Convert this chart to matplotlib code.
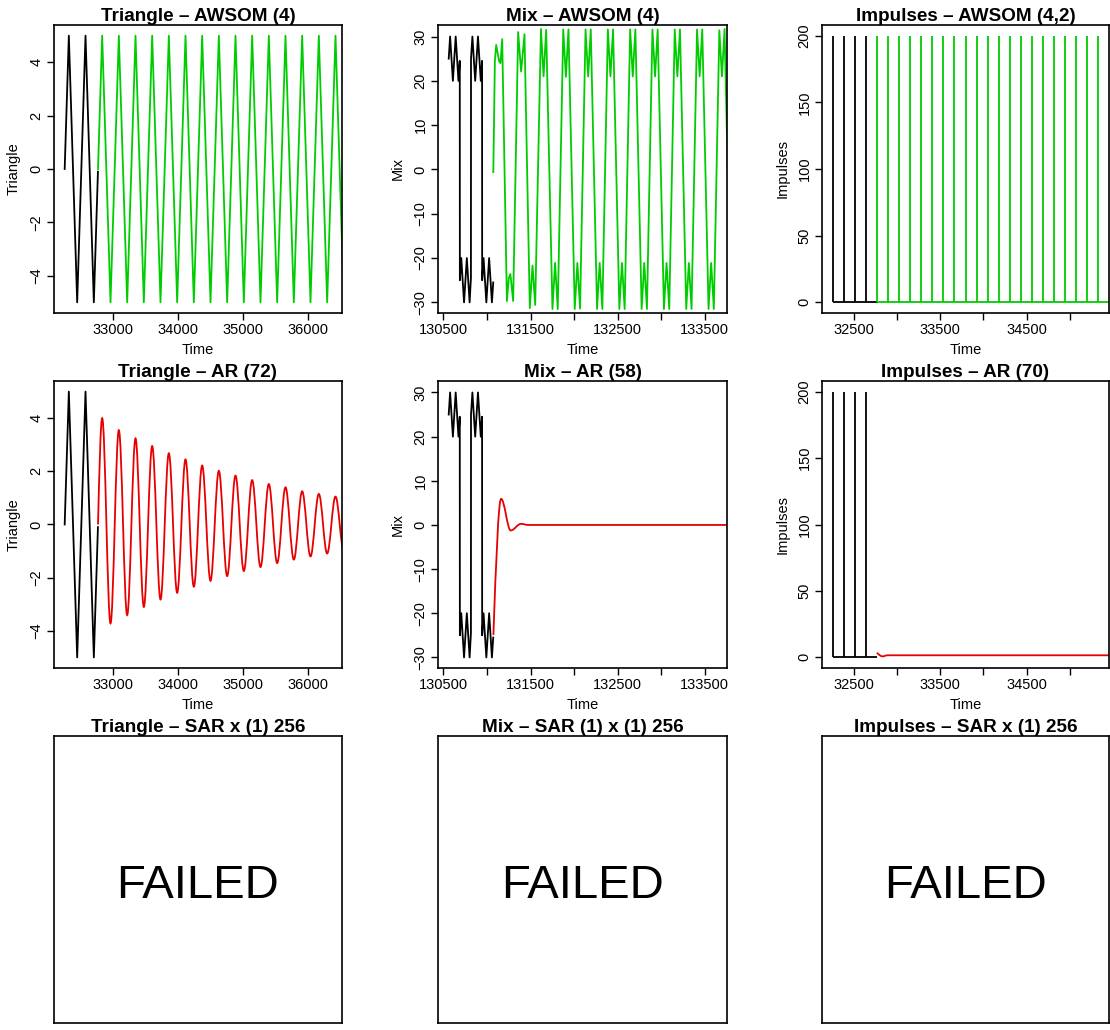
import matplotlib.pyplot as plt
from matplotlib.path import Path
from matplotlib.patches import PathPatch

plt.rcParams['font.family'] = ['Liberation Sans', 'DejaVu Sans']

# ---- data ----
# Triangle: observed series (black) and forecasts, given by their turning points
tri_obs_t = [32256, 32320, 32448, 32576, 32704, 32767]
tri_obs_v = [0, 5, -5, 5, -5, -0.1]
tri_fc_t = [32768, 32832, 32960, 33088, 33216, 33344, 33472, 33600, 33728, 33856,
            33984, 34112, 34240, 34368, 34496, 34624, 34752, 34880, 35008, 35136,
            35264, 35392, 35520, 35648, 35776, 35904, 36032, 36160, 36288, 36416, 36544]
tri_awsom_v = [0, 5, -5, 5, -5, 5, -5, 5, -5, 5, -5, 5, -5, 5, -5, 5,
               -5, 5, -5, 5, -5, 5, -5, 5, -5, 5, -5, 5, -5, 5, -5]
tri_ar_v = [0, 4.0, -3.72, 3.55, -3.41, 3.24, -3.10, 2.95, -2.82, 2.68, -2.57,
            2.45, -2.34, 2.22, -2.12, 2.02, -1.94, 1.84, -1.75, 1.67, -1.60,
            1.52, -1.45, 1.40, -1.32, 1.25, -1.20, 1.15, -1.09, 1.05, -1.0]

# Mix: square wave + small ripple (black), AWSOM forecast (green), AR forecast (red)
mix_obs_t = [130560, 130576, 130608, 130640, 130672, 130687, 130688, 130704, 130736,
             130768, 130800, 130815, 130816, 130832, 130864, 130896, 130928, 130943,
             130944, 130960, 130992, 131024, 131056, 131071]
mix_obs_v = [25, 30, 20, 30, 20, 24.5, -25, -20, -30, -20, -30, -24.5,
             25, 30, 20, 30, 20, 24.5, -25, -20, -30, -20, -30, -25.5]
mix_awsom_t = [131072, 131090, 131105, 131139, 131154, 131174, 131228, 131250, 131268,
               131300, 131357, 131391, 131430, 131491, 131522, 131553,
               131619, 131649, 131679, 131751, 131781, 131812,
               131875, 131905, 131935, 132007, 132037, 132068,
               132131, 132161, 132191, 132263, 132293, 132324,
               132387, 132417, 132447, 132519, 132549, 132580,
               132643, 132673, 132703, 132775, 132805, 132836,
               132899, 132929, 132959, 133031, 133061, 133092,
               133155, 133185, 133215, 133287, 133317, 133348,
               133411, 133441, 133471, 133543, 133573, 133604,
               133667, 133697, 133727, 133799]
mix_awsom_v = [-0.6, 24.5, 28.1, 24.4, 24.0, 29.4, -29.7, -24.5, -23.6,
               -29.7, 31.0, 22.1, 30.5, -31.3, -21.7, -30.6,
               31.7, 21.0, 31.5, -31.5, -21.1, -31.5,
               31.6, 20.9, 31.6, -31.5, -21.1, -31.4,
               31.6, 21.0, 31.6, -31.5, -21.1, -31.5,
               31.6, 21.0, 31.6, -31.5, -21.1, -31.5,
               31.6, 21.0, 31.6, -31.5, -21.1, -31.5,
               31.6, 21.0, 31.6, -31.5, -21.1, -31.5,
               31.6, 21.0, 31.6, -31.5, -21.1, -31.5,
               31.6, 21.0, 31.6, -31.5, -21.1, -31.5,
               31.4, 21.0, 31.7, -31.5]
mix_ar_t = [131073, 131162, 131272, 131390, 131470, 133800]
mix_ar_v = [-24.9, 5.9, -1.25, 0.25, 0.0, 0.0]

# Impulses: spikes of height 200
imp_height = 200
imp_obs_spikes = [32256, 32384, 32512, 32640]
imp_obs_span = [32256, 32767]
imp_awsom_spikes = [32768, 32896, 33024, 33152, 33280, 33408, 33536, 33664, 33792, 33920,
                    34048, 34176, 34304, 34432, 34560, 34688, 34816, 34944, 35072, 35200, 35328]
imp_awsom_span = [32768, 35460]
imp_ar_t = [32768, 32834, 32890, 35460]
imp_ar_v = [3.5, 0.75, 1.56, 1.56]

# axes settings
tri_xlim, tri_ylim = (32092, 36516), (-5.4, 5.4)
mix_xlim, mix_ylim = (130437, 133755), (-32.4, 32.6)
imp_xlim, imp_ylim = (32133, 35451), (-8, 208)
tri_xticks = [33000, 34000, 35000, 36000]
tri_xlabels = ['33000', '34000', '35000', '36000']
tri_yticks = [-4, -2, 0, 2, 4]
mix_xticks = [130500, 131000, 131500, 132000, 132500, 133000, 133500]
mix_xlabels = ['130500', '', '131500', '', '132500', '', '133500']
mix_yticks = [-30, -20, -10, 0, 10, 20, 30]
imp_xticks = [32500, 33000, 33500, 34000, 34500, 35000]
imp_xlabels = ['32500', '', '33500', '', '34500', '']
imp_yticks = [0, 50, 100, 150, 200]

GREEN = '#00CD00'
RED = '#E80000'
LW = 1.3

W, H = 1110, 1030
col_left = [54, 438, 822]
col_w = [288, 289, 287]
row_top = [25, 381, 736]
row_h = [288, 287, 287]


def wave_path(t, v, quarter_start=False):
    # smooth curve through turning points (half-cosine shaped bezier pieces)
    verts = [(t[0], v[0])]
    codes = [Path.MOVETO]
    for i in range(1, len(t)):
        t0, v0, t1, v1 = t[i - 1], v[i - 1], t[i], v[i]
        dt = t1 - t0
        if i == 1 and quarter_start:
            c1 = (t0 + 0.326 * dt, v0 + 0.512 * (v1 - v0))
            c2 = (t0 + 0.640 * dt, v1)
        else:
            c1 = (t0 + 0.3634 * dt, v0)
            c2 = (t1 - 0.3634 * dt, v1)
        verts += [c1, c2, (t1, v1)]
        codes += [Path.CURVE4] * 3
    return Path(verts, codes)


def fmt(v):
    return str(v).replace('-', '\u2212')


def make_axes(r, c):
    left = col_left[c] / W
    bottom = 1 - (row_top[r] + row_h[r]) / H
    ax = plt.gcf().add_axes([left, bottom, col_w[c] / W, row_h[r] / H])
    for s in ax.spines.values():
        s.set_linewidth(1.2)
    return ax


def style(ax, title, xlim, ylim, xticks, xlabels, yticks, ylabel):
    ax.set_xlim(xlim)
    ax.set_ylim(ylim)
    ax.set_xticks(xticks)
    ax.set_xticklabels(xlabels, fontsize=10.5)
    ax.set_yticks(yticks)
    ax.set_yticklabels([fmt(v) for v in yticks], fontsize=10.5, rotation=90, va='center')
    ax.tick_params(length=5, width=1, pad=2.5)
    ax.set_xlabel('Time', fontsize=10.5)
    ax.xaxis.set_label_coords(0.5, -37 / 288)
    ax.xaxis.label.set_va('center')
    ax.set_ylabel(ylabel, fontsize=10.5)
    ax.yaxis.set_label_coords(-40 / 288, 0.5)
    ax.yaxis.label.set_va('center')
    ax.set_title(title, fontsize=13.6, fontweight='bold', pad=3)


fig = plt.figure(figsize=(W / 100, H / 100), dpi=100)

# ---- row 1 : AWSOM ----
ax = make_axes(0, 0)
ax.plot(tri_obs_t, tri_obs_v, color='black', lw=LW)
ax.plot(tri_fc_t, tri_awsom_v, color=GREEN, lw=LW)
style(ax, 'Triangle \u2013 AWSOM (4)', tri_xlim, tri_ylim, tri_xticks, tri_xlabels, tri_yticks, 'Triangle')

ax = make_axes(0, 1)
ax.plot(mix_obs_t, mix_obs_v, color='black', lw=LW)
ax.plot(mix_awsom_t, mix_awsom_v, color=GREEN, lw=LW)
style(ax, 'Mix \u2013 AWSOM (4)', mix_xlim, mix_ylim, mix_xticks, mix_xlabels, mix_yticks, 'Mix')

ax = make_axes(0, 2)
ax.hlines(0, imp_obs_span[0], imp_obs_span[1], color='black', lw=LW)
ax.vlines(imp_obs_spikes, 0, imp_height, color='black', lw=LW)
ax.hlines(0, imp_awsom_span[0], imp_awsom_span[1], color=GREEN, lw=LW)
ax.vlines(imp_awsom_spikes, 0, imp_height, color=GREEN, lw=LW)
style(ax, 'Impulses \u2013 AWSOM (4,2)', imp_xlim, imp_ylim, imp_xticks, imp_xlabels, imp_yticks, 'Impulses')

# ---- row 2 : AR ----
ax = make_axes(1, 0)
ax.plot(tri_obs_t, tri_obs_v, color='black', lw=LW)
ax.add_patch(PathPatch(wave_path(tri_fc_t, tri_ar_v, quarter_start=True),
                       facecolor='none', edgecolor=RED, lw=LW))
style(ax, 'Triangle \u2013 AR (72)', tri_xlim, tri_ylim, tri_xticks, tri_xlabels, tri_yticks, 'Triangle')

ax = make_axes(1, 1)
ax.plot(mix_obs_t, mix_obs_v, color='black', lw=LW)
ax.add_patch(PathPatch(wave_path(mix_ar_t, mix_ar_v, quarter_start=True),
                       facecolor='none', edgecolor=RED, lw=LW))
style(ax, 'Mix \u2013 AR (58)', mix_xlim, mix_ylim, mix_xticks, mix_xlabels, mix_yticks, 'Mix')

ax = make_axes(1, 2)
ax.hlines(0, imp_obs_span[0], imp_obs_span[1], color='black', lw=LW)
ax.vlines(imp_obs_spikes, 0, imp_height, color='black', lw=LW)
ax.add_patch(PathPatch(wave_path(imp_ar_t, imp_ar_v, quarter_start=True),
                       facecolor='none', edgecolor=RED, lw=LW))
style(ax, 'Impulses \u2013 AR (70)', imp_xlim, imp_ylim, imp_xticks, imp_xlabels, imp_yticks, 'Impulses')

# ---- row 3 : SAR (failed) ----
failed_titles = ['Triangle \u2013 SAR x (1) 256', 'Mix \u2013 SAR (1) x (1) 256',
                 'Impulses \u2013 SAR x (1) 256']
for c, title in enumerate(failed_titles):
    ax = make_axes(2, c)
    ax.set_xticks([])
    ax.set_yticks([])
    ax.set_title(title, fontsize=13.6, fontweight='bold', pad=3)
    ax.text(0.5, 0.495, 'FAILED', fontsize=34, ha='center', va='center_baseline',
            transform=ax.transAxes)

fig.savefig('out.png', dpi=100)
